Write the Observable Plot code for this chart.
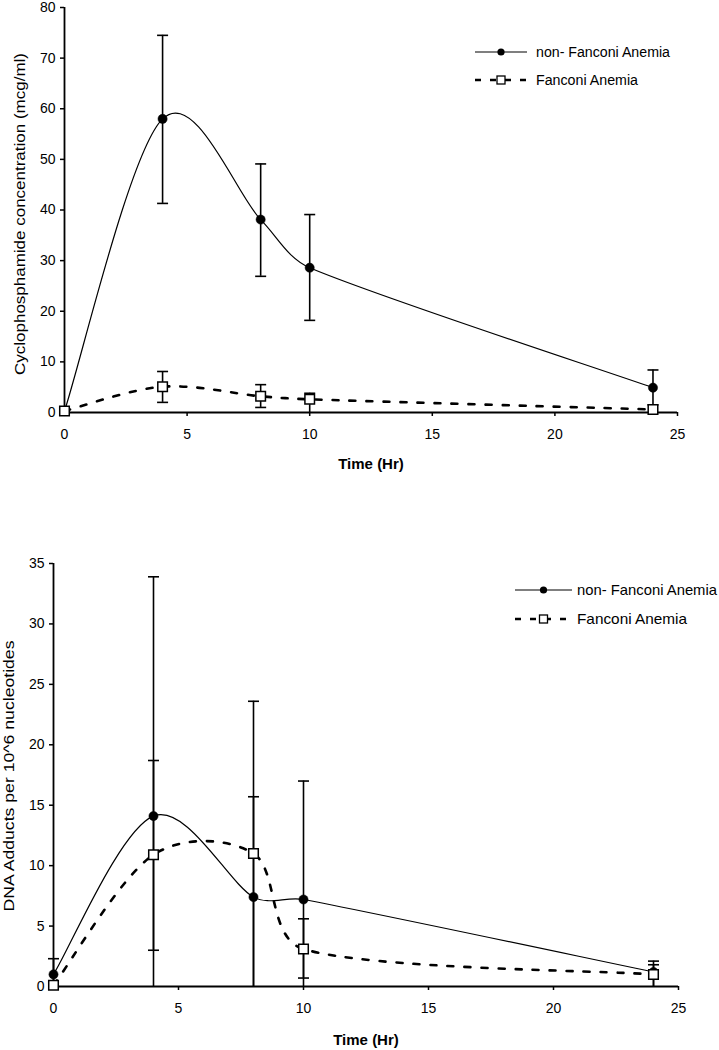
<!DOCTYPE html>
<html><head><meta charset="utf-8">
<script src="https://cdn.jsdelivr.net/npm/d3@7"></script>
<script src="https://cdn.jsdelivr.net/npm/@observablehq/plot@0.6"></script>
<style>
html,body{margin:0;padding:0;background:#fff;}
#wrap{position:relative;width:719px;height:1050px;overflow:hidden;background:#fff;font-family:"Liberation Sans",Arial,sans-serif;}
#wrap > svg{position:absolute;left:0;}
</style></head><body><div id="wrap"></div>
<script>
// ---- data ----
const times = [0, 4, 8, 10, 24];
const seriesNames = ["non- Fanconi Anemia", "Fanconi Anemia"];

// Top: Cyclophosphamide concentration (mcg/ml)
const cpNonFA   = [0.3, 58.0, 38.1, 28.6, 4.9];
const cpNonFAHi = [null, 74.5, 49.1, 39.1, 8.4];
const cpNonFALo = [null, 41.3, 26.9, 18.2, 1.5];
const cpFA      = [0.3, 5.1, 3.2, 2.6, 0.6];
const cpFAHi    = [null, 8.1, 5.5, 3.8, null];
const cpFALo    = [null, 2.0, 1.0, 0, null];
const cpTicks   = [0, 10, 20, 30, 40, 50, 60, 70, 80];

// Bottom: DNA adducts per 10^6 nucleotides
const dnaNonFA   = [1.0, 14.1, 7.4, 7.2, 1.2];
const dnaNonFAHi = [2.3, 33.9, 23.6, 17.0, 2.1];
const dnaNonFALo = [0, 0, 0, 0, 0];
const dnaFA      = [0.1, 10.9, 11.0, 3.1, 1.0];
const dnaFAHi    = [null, 18.7, 15.7, 5.6, 1.8];
const dnaFALo    = [null, 3.0, 0, 0.7, 0];
const dnaTicks   = [0, 5, 10, 15, 20, 25, 30, 35];

const timeTicks = [0, 5, 10, 15, 20, 25];

// ---- helpers ----
const rows = (vals, hi, lo) => times.map((t, i) => ({t, v: vals[i], hi: hi[i], lo: lo[i]}));
const capSymbol = {draw(ctx) { ctx.moveTo(-5.5, 0); ctx.lineTo(5.5, 0); }};
const FONT = "'Liberation Sans', Arial, sans-serif";

// spreadsheet-style smoothed line: Bezier with 1/6 neighbour tangents, arms limited relative to the segment
function smoothCurve(context) {
  let pts = [];
  return {
    areaStart() {}, areaEnd() {},
    lineStart() { pts = []; },
    point(x, y) { pts.push([+x, +y]); },
    lineEnd() {
      const n = pts.length;
      if (!n) return;
      context.moveTo(pts[0][0], pts[0][1]);
      for (let i = 0; i < n - 1; i++) {
        const P0 = pts[i - 1] || pts[i], P1 = pts[i], P2 = pts[i + 1], P3 = pts[i + 2] || pts[i + 1];
        const seg = Math.hypot(P2[0] - P1[0], P2[1] - P1[1]);
        const arm = (A, B) => {
          let ax = (B[0] - A[0]) / 6, ay = (B[1] - A[1]) / 6;
          const L = Math.hypot(ax, ay), lim = 0.35 * seg;
          if (L > lim && L > 0) { ax *= lim / L; ay *= lim / L; }
          return [ax, ay];
        };
        const a1 = arm(P0, P2), a2 = arm(P1, P3);
        context.bezierCurveTo(P1[0] + a1[0], P1[1] + a1[1], P2[0] - a2[0], P2[1] - a2[1], P2[0], P2[1]);
      }
    }
  };
}

function chart({nonFA, fa, yMax, yTicks, height, margins}) {
  const all = [...nonFA, ...fa];
  const bars = all.filter(d => d.hi != null);
  return Plot.plot({
    width: 719, height,
    ...margins,
    style: {fontFamily: FONT, fontSize: "14px", color: "#000", background: "transparent", overflow: "visible"},
    x: {domain: [0, 25]},
    y: {domain: [0, yMax]},
    marks: [
      Plot.axisX({ticks: timeTicks, tickSize: 4, tickPadding: 13, label: null, strokeWidth: 1.5}),
      Plot.axisY({ticks: yTicks, tickSize: 4, tickPadding: 5, label: null, strokeWidth: 1.5}),
      Plot.ruleX([0], {stroke: "black", strokeWidth: 1.8}),
      Plot.ruleY([0], {stroke: "black", strokeWidth: 1.8}),
      Plot.line(fa, {x: "t", y: "v", curve: smoothCurve, stroke: "black", strokeWidth: 2.6, strokeDasharray: "6,11"}),
      Plot.line(nonFA, {x: "t", y: "v", curve: smoothCurve, stroke: "black", strokeWidth: 1.2}),
      Plot.ruleX(bars, {x: "t", y1: d => Math.max(d.lo ?? d.v, 0), y2: "hi", stroke: "black", strokeWidth: 1.6}),
      Plot.dot(bars, {x: "t", y: "hi", symbol: capSymbol, fill: "none", stroke: "black", strokeWidth: 1.6}),
      Plot.dot(bars.filter(d => d.lo != null && d.lo > 0), {x: "t", y: "lo", symbol: capSymbol, fill: "none", stroke: "black", strokeWidth: 1.6}),
      Plot.dot(nonFA, {x: "t", y: "v", r: 4.6, fill: "black", stroke: "black", strokeWidth: 0.5}),
      Plot.dot(fa, {x: "t", y: "v", symbol: "square", r: 5.4, fill: "white", stroke: "black", strokeWidth: 1.5})
    ]
  });
}

const wrap = document.getElementById("wrap");

const topChart = chart({
  nonFA: rows(cpNonFA, cpNonFAHi, cpNonFALo),
  fa: rows(cpFA, cpFAHi, cpFALo),
  yMax: 80, yTicks: cpTicks, height: 480,
  margins: {marginLeft: 64, marginRight: 42, marginTop: 7, marginBottom: 68}
});
topChart.style.top = "0px";
wrap.appendChild(topChart);

const bottomChart = chart({
  nonFA: rows(dnaNonFA, dnaNonFAHi, dnaNonFALo),
  fa: rows(dnaFA, dnaFAHi, dnaFALo),
  yMax: 35, yTicks: dnaTicks, height: 570,
  margins: {marginLeft: 53, marginRight: 41, marginTop: 83, marginBottom: 64}
});
bottomChart.style.top = "480px";
wrap.appendChild(bottomChart);

// ---- titles and legends (overlay) ----
const ov = d3.select(wrap).append("svg")
  .attr("width", 719).attr("height", 1050)
  .style("top", "0px").style("font-family", FONT).style("overflow", "visible");

function title(txt, x, y, opts = {}) {
  const t = ov.append("text").attr("x", 0).attr("y", 0)
    .attr("transform", `translate(${x},${y})` + (opts.rotate ? " rotate(-90)" : ""))
    .attr("text-anchor", "middle").attr("font-size", opts.size || 15)
    .attr("font-weight", opts.bold ? "bold" : null).attr("fill", "#000").text(txt);
  if (opts.len) t.attr("textLength", opts.len).attr("lengthAdjust", "spacingAndGlyphs");
}
title("Cyclophosphamide concentration (mcg/ml)", 25, 214, {rotate: true, len: 322});
title("Time (Hr)", 371, 469, {bold: true});
title("DNA Adducts per 10^6 nucleotides", 14, 776, {rotate: true, len: 271, size: 14});
title("Time (Hr)", 366, 1045, {bold: true});

function legend(x0, x1, y1, y2, textX, size, len1, len2) {
  const cx = (x0 + x1) / 2;
  const g = ov.append("g");
  g.append("line").attr("x1", x0).attr("x2", x1).attr("y1", y1).attr("y2", y1).attr("stroke", "#000").attr("stroke-width", 1.2);
  g.append("circle").attr("cx", cx).attr("cy", y1).attr("r", 3.6).attr("fill", "#000");
  g.append("text").attr("x", textX).attr("y", y1 + 5).attr("font-size", size)
    .attr("textLength", len1).attr("lengthAdjust", "spacingAndGlyphs").text(seriesNames[0]);
  g.append("line").attr("x1", x0).attr("x2", x1 + 3).attr("y1", y2).attr("y2", y2).attr("stroke", "#000")
    .attr("stroke-width", 2.6).attr("stroke-dasharray", "6,9");
  g.append("rect").attr("x", cx - 4).attr("y", y2 - 4).attr("width", 8).attr("height", 8)
    .attr("fill", "#fff").attr("stroke", "#000").attr("stroke-width", 1.3);
  g.append("text").attr("x", textX).attr("y", y2 + 5).attr("font-size", size)
    .attr("textLength", len2).attr("lengthAdjust", "spacingAndGlyphs").text(seriesNames[1]);
}
legend(475, 527, 52, 80, 536, 14, 134, 102);
legend(515, 572, 590, 619, 577, 15, 140, 110);
</script></body></html>
